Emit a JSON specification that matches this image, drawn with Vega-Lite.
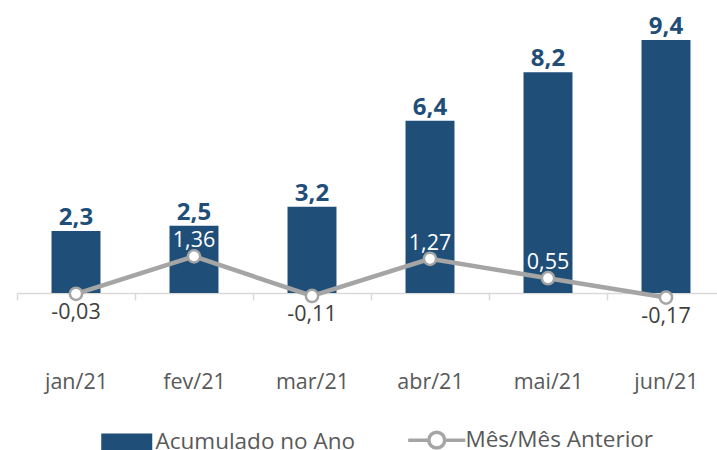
{
  "$schema": "https://vega.github.io/schema/vega-lite/v6.json",
  "width": 700,
  "height": 293,
  "autosize": {"type": "none"},
  "padding": {"left": 17, "top": 0, "right": 0, "bottom": 157},
  "background": "#FFFFFF",
  "config": {
    "view": {"stroke": null},
    "font": "Open Sans",
    "locale": {"number": {"decimal": ",", "thousands": ".", "grouping": [3], "currency": ["", ""], "minus": "-"}}
  },
  "data": {
    "values": [
      {"mes": "jan/21", "acum": 2.3, "mom": -0.03},
      {"mes": "fev/21", "acum": 2.5, "mom": 1.36},
      {"mes": "mar/21", "acum": 3.2, "mom": -0.11},
      {"mes": "abr/21", "acum": 6.4, "mom": 1.27},
      {"mes": "mai/21", "acum": 8.2, "mom": 0.55},
      {"mes": "jun/21", "acum": 9.4, "mom": -0.17}
    ]
  },
  "encoding": {
    "x": {
      "field": "mes", "type": "nominal", "sort": null, "title": null,
      "scale": {"range": [0, 708], "paddingInner": 0, "paddingOuter": 0},
      "axis": {
        "labelAngle": 0, "labelFont": "Open Sans", "labelFontSize": 21.5, "labelColor": "#595959",
        "labelBaseline": "alphabetic", "labelPadding": 88,
        "domainColor": "#D9D9D9", "domainWidth": 1.5,
        "tickColor": "#D9D9D9", "tickWidth": 1.5, "tickSize": 7, "tickBand": "extent",
        "grid": false
      }
    }
  },
  "layer": [
    {
      "mark": {"type": "bar", "width": {"band": 0.415}},
      "encoding": {
        "y": {"field": "acum", "type": "quantitative", "scale": {"domain": [0, 10.886], "nice": false}, "axis": null},
        "color": {
          "datum": "Acumulado no Ano", "type": "nominal",
          "scale": {"domain": ["Acumulado no Ano", "Mês/Mês Anterior"], "range": ["#1F4E79", "#A5A5A5"]},
          "legend": {
            "title": null, "orient": "none", "direction": "horizontal",
            "legendX": 98.5, "legendY": 428.5, "padding": 0,
            "symbolSize": 2601, "labelOffset": 17.5, "columnPadding": 45, "labelLimit": 400,
            "labelFont": "Open Sans", "labelFontSize": 22.5, "labelColor": "#595959",
            "encode": {
              "symbols": {
                "enter": {
                  "fillOpacity": {"signal": "datum.value === 'Acumulado no Ano' ? 1 : 0"}
                },
                "update": {
                  "shape": {"signal": "datum.value === 'Acumulado no Ano' ? 'M-1,-0.333H1V0.333H-1Z' : 'M-1.12,0H-0.31M0.31,0H1.12M0.31,0A0.31,0.31 0 1 1 -0.31,0A0.31,0.31 0 1 1 0.31,0'"},
                  "fill": {"signal": "datum.value === 'Acumulado no Ano' ? '#1F4E79' : '#FFFFFF'"},
                  "stroke": {"signal": "datum.value === 'Acumulado no Ano' ? '#1F4E79' : '#A5A5A5'"},
                  "strokeWidth": {"signal": "datum.value === 'Acumulado no Ano' ? 0 : 3.5"},
                  "fillOpacity": {"signal": "datum.value === 'Acumulado no Ano' ? 1 : 0"},
                  "opacity": {"value": 1},
                  "strokeOpacity": {"value": 1}
                }
              }
            }
          }
        }
      }
    },
    {
      "mark": {"type": "text", "font": "Open Sans", "fontWeight": "bold", "fontSize": 24, "color": "#1F4E79", "baseline": "alphabetic", "dy": -6},
      "encoding": {
        "y": {"field": "acum", "type": "quantitative"},
        "text": {"field": "acum", "type": "quantitative", "format": ".1f"}
      }
    },
    {
      "mark": {"type": "line", "strokeWidth": 4.5, "color": "#A5A5A5"},
      "encoding": {
        "y": {"field": "mom", "type": "quantitative"},
        "color": {"datum": "Mês/Mês Anterior", "type": "nominal"}
      }
    },
    {
      "mark": {"type": "point", "filled": true, "fill": "#FFFFFF", "stroke": "#A5A5A5", "strokeWidth": 2.5, "size": 150, "opacity": 1},
      "encoding": {
        "y": {"field": "mom", "type": "quantitative"}
      }
    },
    {
      "transform": [{"filter": "datum.mom > 0"}],
      "mark": {"type": "text", "font": "Open Sans", "fontSize": 21.5, "color": "#FFFFFF", "baseline": "alphabetic", "dy": -9},
      "encoding": {
        "y": {"field": "mom", "type": "quantitative"},
        "text": {"field": "mom", "type": "quantitative", "format": ".2f"}
      }
    },
    {
      "transform": [{"filter": "datum.mom < 0"}],
      "mark": {"type": "text", "font": "Open Sans", "fontSize": 21.5, "color": "#404040", "baseline": "alphabetic", "dy": 25},
      "encoding": {
        "y": {"field": "mom", "type": "quantitative"},
        "text": {"field": "mom", "type": "quantitative", "format": ".2f"}
      }
    }
  ]
}
